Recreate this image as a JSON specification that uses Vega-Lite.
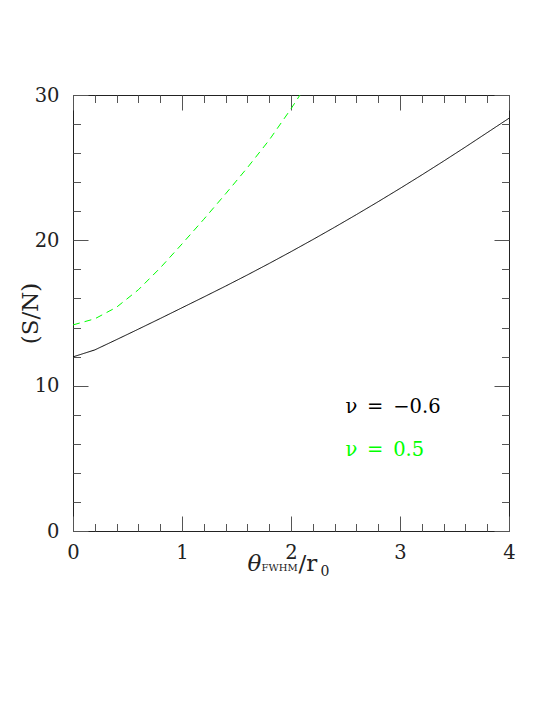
{
  "$schema": "https://vega.github.io/schema/vega-lite/v6.json",
  "width": 436,
  "height": 436,
  "autosize": "none",
  "padding": {"left": 73, "top": 95, "right": 45, "bottom": 186},
  "background": "white",
  "config": {
    "view": {"stroke": "#222", "strokeWidth": 1},
    "axis": {"grid": false, "domain": false, "labelFont": "DejaVu Serif", "titleFont": "DejaVu Serif", "labelColor": "#222", "titleColor": "#222", "tickColor": "#555", "tickWidth": 1, "titleFontWeight": "normal", "labelFlush": false, "labelOverlap": false}
  },
  "datasets": {
    "curves": [
      {"series": "ν = −0.6", "x": 0.0, "y": 11.98},
      {"series": "ν = −0.6", "x": 0.2, "y": 12.46},
      {"series": "ν = −0.6", "x": 0.4, "y": 13.17},
      {"series": "ν = −0.6", "x": 0.6, "y": 13.89},
      {"series": "ν = −0.6", "x": 0.8, "y": 14.62},
      {"series": "ν = −0.6", "x": 1.0, "y": 15.36},
      {"series": "ν = −0.6", "x": 1.2, "y": 16.1},
      {"series": "ν = −0.6", "x": 1.4, "y": 16.85},
      {"series": "ν = −0.6", "x": 1.6, "y": 17.62},
      {"series": "ν = −0.6", "x": 1.8, "y": 18.41},
      {"series": "ν = −0.6", "x": 2.0, "y": 19.22},
      {"series": "ν = −0.6", "x": 2.2, "y": 20.05},
      {"series": "ν = −0.6", "x": 2.4, "y": 20.9},
      {"series": "ν = −0.6", "x": 2.6, "y": 21.77},
      {"series": "ν = −0.6", "x": 2.8, "y": 22.66},
      {"series": "ν = −0.6", "x": 3.0, "y": 23.57},
      {"series": "ν = −0.6", "x": 3.2, "y": 24.5},
      {"series": "ν = −0.6", "x": 3.4, "y": 25.45},
      {"series": "ν = −0.6", "x": 3.6, "y": 26.42},
      {"series": "ν = −0.6", "x": 3.8, "y": 27.41},
      {"series": "ν = −0.6", "x": 4.0, "y": 28.4},
      {"series": "ν = 0.5", "x": 0.0, "y": 14.18},
      {"series": "ν = 0.5", "x": 0.2, "y": 14.6},
      {"series": "ν = 0.5", "x": 0.4, "y": 15.4},
      {"series": "ν = 0.5", "x": 0.6, "y": 16.6},
      {"series": "ν = 0.5", "x": 0.8, "y": 18.1},
      {"series": "ν = 0.5", "x": 1.0, "y": 19.75},
      {"series": "ν = 0.5", "x": 1.2, "y": 21.45},
      {"series": "ν = 0.5", "x": 1.4, "y": 23.2},
      {"series": "ν = 0.5", "x": 1.6, "y": 25.0},
      {"series": "ν = 0.5", "x": 1.8, "y": 26.9},
      {"series": "ν = 0.5", "x": 2.0, "y": 29.05},
      {"series": "ν = 0.5", "x": 2.1, "y": 30.2}
    ]
  },
  "data": {"name": "curves"},
  "layer": [
    {
      "mark": {"type": "line", "clip": true, "strokeWidth": 1},
      "encoding": {
        "x": {"field": "x", "type": "quantitative", "scale": {"domain": [0, 4], "nice": false, "zero": false},
          "axis": {"orient": "bottom", "values": [0, 1, 2, 3, 4], "ticks": false, "labelFontSize": 19.5, "labelPadding": 12, "labelBaseline": "top",
            "title": "θ", "titleFontSize": 23, "titleFontStyle": "italic", "titleX": 174, "titleY": 39, "titleAlign": "left", "titleBaseline": "alphabetic"}},
        "y": {"field": "y", "type": "quantitative", "scale": {"domain": [0, 30], "nice": false},
          "axis": {"orient": "left", "values": [0, 10, 20, 30], "ticks": false, "labelFontSize": 19.5, "labelPadding": 14, "labelBaseline": "middle",
            "title": "(S/N)", "titleFontSize": 23, "titleAngle": -90, "titleX": -43, "titleY": 218, "titleAlign": "center", "titleBaseline": "middle"}},
        "color": {"field": "series", "type": "nominal", "scale": {"domain": ["ν = −0.6", "ν = 0.5"], "range": ["#000000", "#00ff00"]},
          "legend": {"orient": "none", "legendX": 253, "legendY": 302, "title": null, "symbolSize": 0, "symbolStrokeWidth": 0, "symbolOpacity": 0,
            "labelFont": "DejaVu Serif", "labelFontSize": 19.5, "labelOffset": 0, "rowPadding": 22, "padding": 0,
            "labelExpr": "replace(replace(datum.label, ' ', '\u2002'), ' ', '\u2002')",
            "encode": {"labels": {"update": {"fill": {"scale": "color", "field": "value"}}}}}},
        "strokeDash": {"field": "series", "type": "nominal", "scale": {"domain": ["ν = −0.6", "ν = 0.5"], "range": [[1, 0], [7, 5]]}, "legend": null}
      }
    },
    {
      "mark": {"type": "line", "strokeOpacity": 0},
      "encoding": {
        "x": {"field": "x", "type": "quantitative", "scale": {"domain": [0, 4], "nice": false, "zero": false},
          "axis": {"orient": "bottom", "values": [0, 1, 2, 3, 4], "labels": false, "tickSize": -15, "title": null}},
        "y": {"field": "y", "type": "quantitative", "scale": {"domain": [0, 30], "nice": false},
          "axis": {"orient": "left", "values": [0, 10, 20, 30], "labels": false, "tickSize": -15, "title": null}}
      }
    },
    {
      "mark": {"type": "line", "strokeOpacity": 0},
      "encoding": {
        "x": {"field": "x", "type": "quantitative", "scale": {"domain": [0, 4], "nice": false, "zero": false},
          "axis": {"orient": "bottom", "values": [0.2, 0.4, 0.6, 0.8, 1.2, 1.4, 1.6, 1.8, 2.2, 2.4, 2.6, 2.8, 3.2, 3.4, 3.6, 3.8], "labels": false, "tickSize": -7.5, "title": null}},
        "y": {"field": "y", "type": "quantitative", "scale": {"domain": [0, 30], "nice": false},
          "axis": {"orient": "left", "values": [2, 4, 6, 8, 12, 14, 16, 18, 22, 24, 26, 28], "labels": false, "tickSize": -7.5, "title": null}}
      }
    },
    {
      "mark": {"type": "line", "strokeOpacity": 0},
      "encoding": {
        "x": {"field": "x", "type": "quantitative", "scale": {"domain": [0, 4], "nice": false, "zero": false},
          "axis": {"orient": "top", "values": [0, 1, 2, 3, 4], "labels": false, "tickSize": -15, "title": null}},
        "y": {"field": "y", "type": "quantitative", "scale": {"domain": [0, 30], "nice": false},
          "axis": {"orient": "right", "values": [0, 10, 20, 30], "labels": false, "tickSize": -15, "title": null}}
      }
    },
    {
      "mark": {"type": "line", "strokeOpacity": 0},
      "encoding": {
        "x": {"field": "x", "type": "quantitative", "scale": {"domain": [0, 4], "nice": false, "zero": false},
          "axis": {"orient": "top", "values": [0.2, 0.4, 0.6, 0.8, 1.2, 1.4, 1.6, 1.8, 2.2, 2.4, 2.6, 2.8, 3.2, 3.4, 3.6, 3.8], "labels": false, "tickSize": -7.5, "title": null}},
        "y": {"field": "y", "type": "quantitative", "scale": {"domain": [0, 30], "nice": false},
          "axis": {"orient": "right", "values": [2, 4, 6, 8, 12, 14, 16, 18, 22, 24, 26, 28], "labels": false, "tickSize": -7.5, "title": null}}
      }
    },
    {
      "mark": {"type": "line", "strokeOpacity": 0},
      "encoding": {
        "x": {"field": "x", "type": "quantitative", "scale": {"domain": [0, 4], "nice": false, "zero": false},
          "axis": {"orient": "bottom", "labels": false, "ticks": false, "title": "FWHM", "titleFontSize": 10, "titleX": 188, "titleY": 39, "titleAlign": "left", "titleBaseline": "alphabetic"}},
        "y": {"field": "y", "type": "quantitative", "scale": {"domain": [0, 30], "nice": false}, "axis": null}
      }
    },
    {
      "mark": {"type": "line", "strokeOpacity": 0},
      "encoding": {
        "x": {"field": "x", "type": "quantitative", "scale": {"domain": [0, 4], "nice": false, "zero": false},
          "axis": {"orient": "bottom", "labels": false, "ticks": false, "title": "/r", "titleFontSize": 23, "titleX": 225, "titleY": 39, "titleAlign": "left", "titleBaseline": "alphabetic"}},
        "y": {"field": "y", "type": "quantitative", "scale": {"domain": [0, 30], "nice": false}, "axis": null}
      }
    },
    {
      "mark": {"type": "line", "strokeOpacity": 0},
      "encoding": {
        "x": {"field": "x", "type": "quantitative", "scale": {"domain": [0, 4], "nice": false, "zero": false},
          "axis": {"orient": "bottom", "labels": false, "ticks": false, "title": "0", "titleFontSize": 14, "titleX": 247, "titleY": 44, "titleAlign": "left", "titleBaseline": "alphabetic"}},
        "y": {"field": "y", "type": "quantitative", "scale": {"domain": [0, 30], "nice": false}, "axis": null}
      }
    }
  ],
  "resolve": {"axis": {"x": "independent", "y": "independent"}}
}
